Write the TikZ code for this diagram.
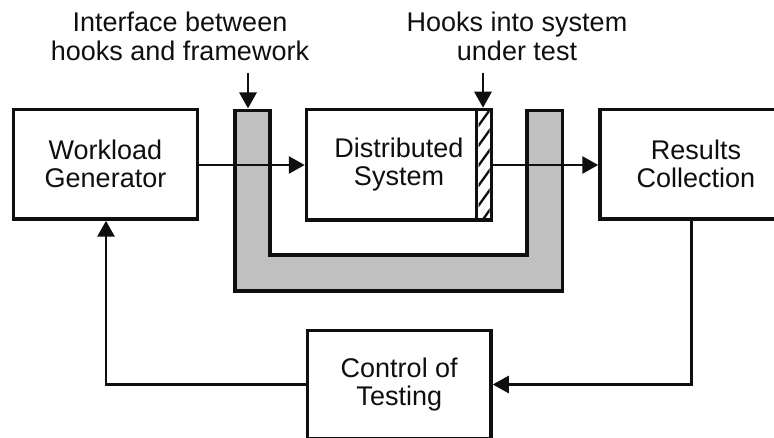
\documentclass[tikz,border=0pt]{standalone}
\usepackage{fontspec}
\setmainfont{Liberation Sans}
\usetikzlibrary{arrows.meta}
\definecolor{ugray}{RGB}{192,192,192}
\definecolor{ink}{RGB}{15,15,15}
\begin{document}
\begin{tikzpicture}[x=1pt,y=-1pt,
  box/.style={draw=ink, line width=3.5pt, fill=white, align=center, inner sep=0pt, font=\fontsize{27}{28}\selectfont, text=ink},
  conn/.style={draw=ink, line width=2.8pt, -{Triangle[width=17pt,length=16pt]}},
  lbl/.style={align=center, inner sep=0pt, font=\fontsize{27}{29}\selectfont, text=ink},
  ushape/.style={draw=ink, line width=3.5pt, fill=ugray},
  hatchline/.style={draw=ink, line width=2.3pt}]
\useasboundingbox (0,0) rectangle (774,438);
\clip (0,0) rectangle (774,438);
% framework interface (gray U)
\draw[ushape] (235,110.5) -- (270,110.5) -- (270,255) -- (527,255) -- (527,110.5) -- (562.5,110.5) -- (562.5,291) -- (235,291) -- cycle;
% boxes
\node[box, minimum width=184pt, minimum height=109.5pt] (wg) at (105.5,164.25) {Workload\\Generator};
\node[box, minimum width=185pt, minimum height=110.5pt] (ds) at (399,164.75) {Distributed\\System};
\node[box, minimum width=192pt, minimum height=109.5pt] (rc) at (696,164.25) {Results\\Collection};
\node[box, minimum width=183.5pt, minimum height=108pt] (ct) at (399.25,384.5) {Control of\\Testing};
% hatched hooks strip
\begin{scope}
  \clip (478.5,111.3) rectangle (489.7,218.2);
  \foreach \k in {0,...,8} \draw[hatchline] (474,232-20*\k) -- (494,204-20*\k);
\end{scope}
\draw[ink, line width=3.5pt] (476.5,109.5) -- (476.5,220);
% labels
\node[lbl, anchor=south] (l1) at (180,61) {Interface between\\hooks and framework};
\node[lbl, anchor=south] (l2) at (517,61) {Hooks into system\\under test};
% connectors
\draw[conn] (wg.east |- 0,165) -- (ds.west |- 0,165);
\draw[conn] (ds.east |- 0,165) -- (rc.west |- 0,165);
\draw[conn] ([xshift=-4.5pt]rc.south) |- (ct.east);
\draw[conn] (ct.west) -| ([xshift=0.5pt]wg.south);
\coordinate (a1) at (248,73);
\coordinate (b1) at (248,108.5);
\coordinate (a2) at (483,73);
\draw[conn] (a1) -- (b1);
\draw[conn] (a2) -- (a2 |- ds.north);
\end{tikzpicture}
\end{document}
